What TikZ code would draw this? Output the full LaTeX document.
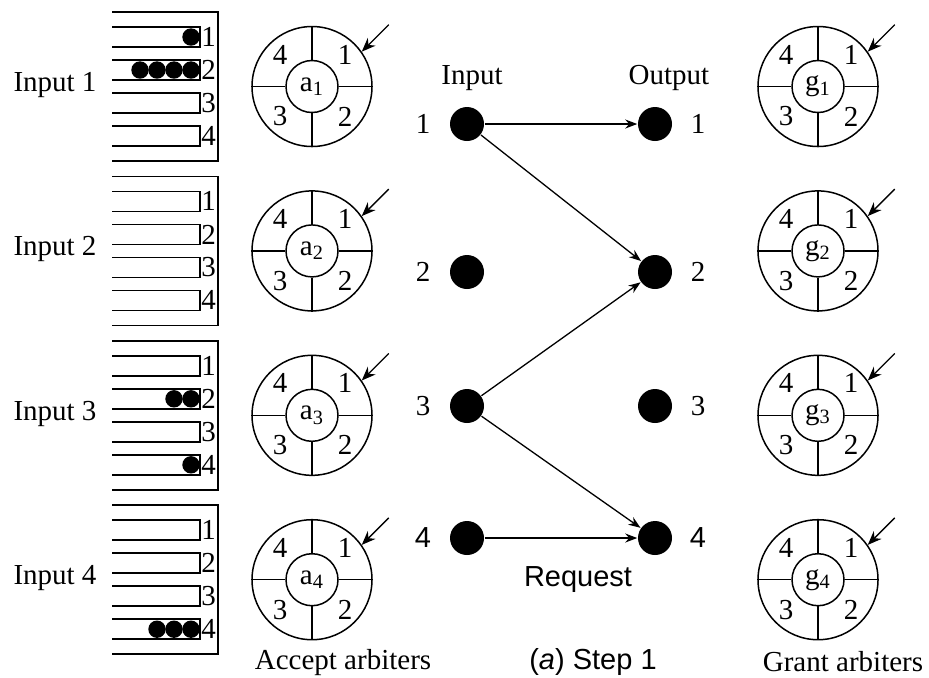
\documentclass[tikz,border=0pt]{standalone}
\usepackage{fontspec}
\setmainfont{Liberation Serif}
\setsansfont{Liberation Sans}
\usetikzlibrary{arrows.meta,calc}

\begin{document}
\begin{tikzpicture}[
  x=0.5pt, y=-0.5pt,
  line width=0.75pt,
  every node/.style={font=\fontsize{14.5}{17}\selectfont},
  arbiter/.style={draw, circle, minimum size=60pt, inner sep=0pt},
  hub/.style={draw, circle, minimum size=26pt, inner sep=0pt},
  port/.style={circle, fill=black, minimum size=17pt, inner sep=0pt},
  cell/.style={fill=black},
  qlabel/.style={inner sep=0pt},
  pointer/.style={-{Stealth[length=7pt,width=5.5pt]}, line width=0.65pt},
  request/.style={-{Stealth[length=6pt,width=4.5pt]}, line width=0.65pt}
]
\useasboundingbox (0,0) rectangle (929,677);

% input queues
\foreach \k in {1,...,4}{
  \pgfmathsetmacro\qtop{12+164.4*(\k-1)}
  \node (inq\k) at (55,\qtop+73) {Input \k};
  \draw (112,\qtop) -| (218,\qtop+149) -- (112,\qtop+149);
  \foreach \i in {1,...,4}{
    \pgfmathsetmacro\qy{\qtop+25+33*(\i-1)}
    \draw (112,\qy-10) -| (200,\qy+10) -- (112,\qy+10);
    \node[qlabel] (inq\k n\i) at (208.5,\qy) {\i};
  }
}
\foreach \k/\q/\n in {1/1/1, 1/2/4, 3/2/2, 3/4/1, 4/4/3}{
  \pgfmathsetmacro\qy{12+164.4*(\k-1)+25+33*(\q-1)}
  \foreach \c in {1,...,\n}
    \fill[cell] ({191-17*(\c-1)},\qy) circle[radius=8.7];
}

% accept and grant arbiters
\foreach \k in {1,...,4}{
  \pgfmathsetmacro\row{86.5+164.4*(\k-1)}
  \foreach \kind/\x/\sym in {acc/312/a, gnt/818/g}{
    \node[arbiter] (\kind\k) at (\x,\row) {};
    \node[hub] (\kind\k hub) at (\kind\k) {\sym\textsubscript{\k}};
    \draw (\kind\k hub.north) -- (\kind\k.north)
          (\kind\k hub.south) -- (\kind\k.south)
          (\kind\k hub.east) -- (\kind\k.east)
          (\kind\k hub.west) -- (\kind\k.west);
    \node (\kind\k p1) at ($(\kind\k)+(33,-32)$) {1};
    \node (\kind\k p2) at ($(\kind\k)+(33,30)$) {2};
    \node (\kind\k p3) at ($(\kind\k)+(-32,30)$) {3};
    \node (\kind\k p4) at ($(\kind\k)+(-32,-32)$) {4};
    \coordinate (\kind\k tail) at ($(\kind\k.35)+(27,-27)$);
    \draw[pointer] (\kind\k tail) -- (\kind\k.35);
  }
}

% request graph
\node (inhead) at (472,78) {Input};
\node (outhead) at (669,78) {Output};
\foreach \i/\y/\f in {1/124/\rmfamily, 2/272/\rmfamily, 3/406/\rmfamily, 4/538/\sffamily}{
  \node[port] (in\i) at (467,\y) {};
  \node[port] (out\i) at (655,\y) {};
  \node (in\i l) at (423,\y) {\f\i};
  \node (out\i l) at (698,\y) {\f\i};
}
\draw[request] (in1) -- (out1);
\draw[request] (in1) -- (out2);
\draw[request] (in3) -- (out2);
\draw[request] (in3) -- (out4);
\draw[request] (in4) -- (out4);

\node (reqlabel) at (578,580) {\sffamily Request};
\node (steplabel) at (593,662) {\sffamily({\itshape a}) Step 1};
\node (acclabel) at (343,662) {Accept arbiters};
\node (gntlabel) at (843,662) {Grant arbiters};
\end{tikzpicture}
\end{document}
